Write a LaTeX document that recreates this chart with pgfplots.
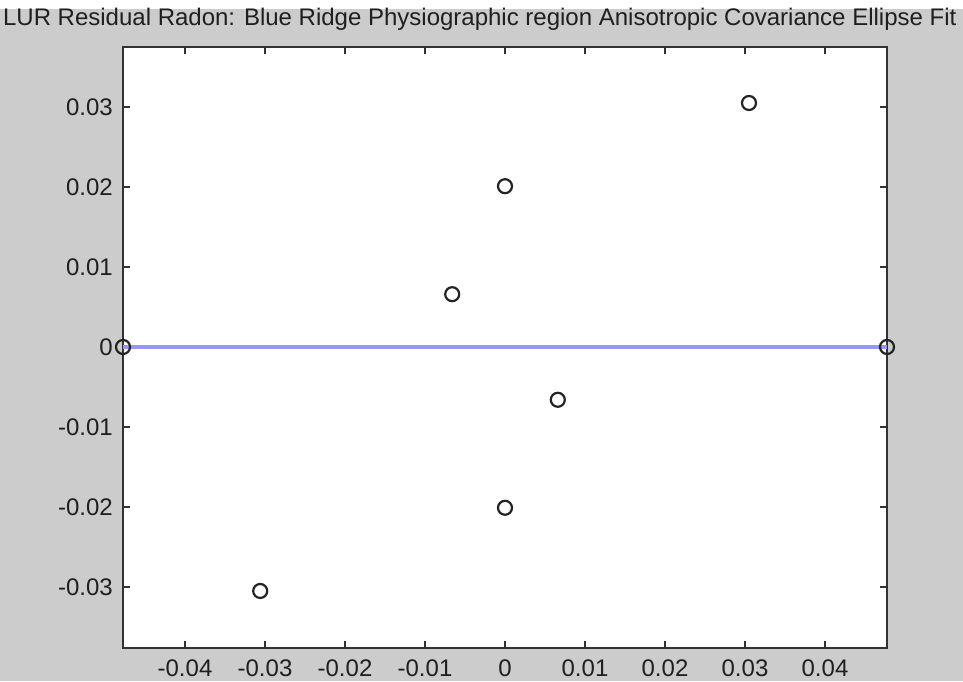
\documentclass[border=0pt]{standalone}
\usepackage{pgfplots}
\pgfplotsset{compat=1.18}
\usepackage{fontspec}
\setmainfont{Liberation Sans}
\definecolor{figgray}{RGB}{204,204,204}
\definecolor{lineblue}{RGB}{150,150,250}
\definecolor{axgray}{RGB}{50,50,50}
\definecolor{markgray}{RGB}{35,35,35}
\begin{document}
\begin{tikzpicture}[x=1pt,y=1pt]
\fill[white] (-123,-33) rectangle (840,648);
\fill[figgray] (-123,-33) rectangle (840,639);
\begin{axis}[
  at={(0,0)}, anchor=south west,
  width=764pt, height=601pt, scale only axis,
  xmin=-0.04775, xmax=0.04775, ymin=-0.03763, ymax=0.0375,
  scaled ticks=false,
  axis background/.style={fill=white},
  axis line style={axgray, line width=1.3pt},
  every tick/.style={axgray, line width=1.3pt},
  major tick length=7pt,
  tick align=inside,
  xtick={-0.04,-0.03,-0.02,-0.01,0,0.01,0.02,0.03,0.04},
  xticklabels={-0.04,-0.03,-0.02,-0.01,0,0.01,0.02,0.03,0.04},
  ytick={-0.03,-0.02,-0.01,0,0.01,0.02,0.03},
  yticklabels={-0.03,-0.02,-0.01,0,0.01,0.02,0.03},
  ticklabel style={font=\fontsize{24}{28}\selectfont, inner sep=0pt, text=black!88},
  yticklabel style={xshift=-10pt},
  xticklabel style={yshift=-12pt},
  title={LUR Residual Radon: Blue Ridge Physiographic region Anisotropic Covariance Ellipse Fit},
  title style={at={(0.467,1)}, anchor=base, yshift=15pt, inner sep=0pt,
    font=\fontsize{24}{28}\selectfont, text=black!88},
  clip=false,
]
\addplot[lineblue, line width=3.5pt] coordinates {(-0.04775,0) (0.04775,0)};
\addplot[only marks, mark=o, mark size=7pt, markgray, mark options={line width=2.2pt}] coordinates {
  (0.0305,0.0305)
  (0,0.0201)
  (-0.0066,0.0066)
  (0.0066,-0.0066)
  (0,-0.0201)
  (-0.0306,-0.0305)
  (-0.04775,0)
  (0.04775,0)
};
\end{axis}
\pgfresetboundingbox
\useasboundingbox (-123,-33) rectangle (840,648);
\end{tikzpicture}
\end{document}
